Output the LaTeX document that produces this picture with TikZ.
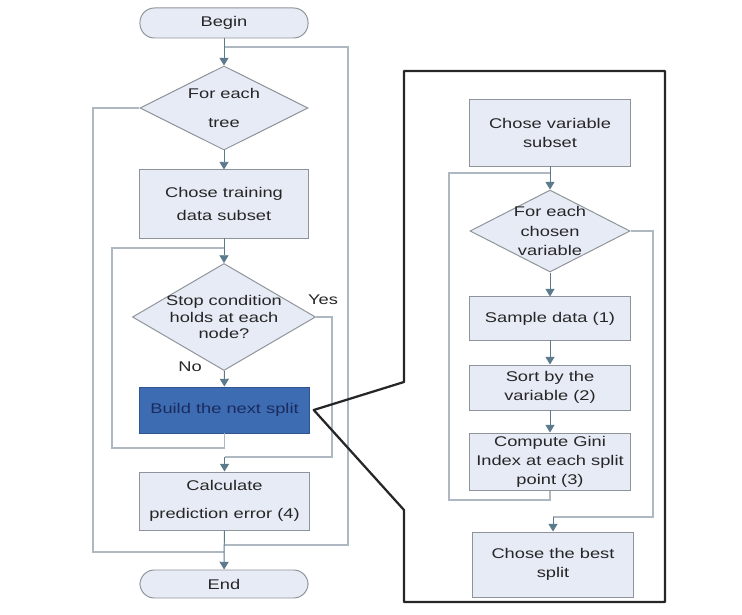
\documentclass[tikz,border=0pt]{standalone}
\usepackage{fontspec}
\setmainfont{Liberation Sans}[FakeStretch=1.3]
\usetikzlibrary{shapes.geometric,arrows.meta}
\definecolor{boxfill}{HTML}{E7EBF6}
\definecolor{boxline}{HTML}{8E949A}
\definecolor{flowcol}{HTML}{5B7A8C}
\definecolor{loopcol}{HTML}{AEB8C2}
\definecolor{splitfill}{HTML}{3D6CB3}
\definecolor{splittext}{HTML}{1A2B5E}
\definecolor{panelcol}{HTML}{262626}
\begin{document}
\begin{tikzpicture}[x=0.025cm, y=-0.025cm]
    \tikzstyle{txt}=[font=\fontsize{10}{13}\selectfont, text=black!85, align=center]
    \tikzstyle{box}=[txt, rectangle, draw=boxline, fill=boxfill, line width=0.7pt, inner sep=1pt, minimum width=4cm]
    \tikzstyle{term}=[box, rounded corners=0.36cm, minimum width=4.2cm]
    \tikzstyle{choice}=[txt, diamond, draw=boxline, fill=boxfill, line width=0.7pt, inner sep=-3pt, shape aspect=2]
    \tikzstyle{flow}=[draw=flowcol, line width=0.7pt, -{Triangle[width=6.5pt,length=5.5pt]}]
    \tikzstyle{loopline}=[draw=loopcol, line width=0.8pt]
    \useasboundingbox (0,0) rectangle (742,615);

    \node[term, minimum height=0.75cm] (begin) at (224,23) {Begin};
    \node[choice, minimum width=4.2cm, minimum height=2.1cm, font=\fontsize{10}{20}\selectfont] (tree) at (224,108) {For each\\tree};
    \node[box, minimum width=4.2cm, minimum height=1.7cm, font=\fontsize{10}{16}\selectfont] (train) at (224,204) {Chose training\\data subset};
    \node[choice, minimum width=4.575cm, minimum height=2.675cm, shape aspect=1.7, font=\fontsize{10}{12}\selectfont] (stop) at (224,317) {Stop condition\\holds at each\\node?};
    \node[box, minimum width=4.225cm, minimum height=1.15cm, fill=splitfill, draw=splitfill!80!black, text=splittext] (split) at (224.5,410) {Build the next split};
    \node[box, minimum width=4.225cm, minimum height=1.45cm, font=\fontsize{10}{20}\selectfont] (calc) at (224.5,501) {Calculate\\prediction error (4)};
    \node[term, minimum height=0.7cm] (end) at (224,584) {End};

    \node[txt] (no) at (190,367) {No};
    \node[txt] (yes) at (323,300) {Yes};

    \node[box, minimum height=1.65cm] (varsub) at (550,133) {Chose variable\\subset};
    \node[choice, minimum width=4cm, minimum height=2.05cm, font=\fontsize{10}{14}\selectfont] (chosen) at (550,231) {For each\\chosen\\variable};
    \node[box, minimum height=1.075cm] (sample) at (550,318.5) {Sample data (1)};
    \node[box, minimum height=1.125cm] (sort) at (550,387.5) {Sort by the\\variable (2)};
    \node[box, minimum height=1.425cm, font=\fontsize{10}{13.5}\selectfont] (gini) at (550,461.5) {Compute Gini\\Index at each split\\point (3)};
    \node[box, minimum height=1.625cm] (best) at (553,564.5) {Chose the best\\split};

    \coordinate (treein) at (224,47);
    \coordinate (outerR) at (348,545);
    \coordinate (exitL) at (93,552);
    \coordinate (stopin) at (224,248);
    \coordinate (innerL) at (112,448);
    \coordinate (yesR) at (332,457);
    \coordinate (yesJ) at (224.5,457);
    \coordinate (chosenin) at (550,173);
    \coordinate (vloopL) at (449,500);
    \coordinate (vexitR) at (653,517);
    \coordinate (vexitJ) at (553,517);

    \draw[loopline] (calc.south) |- (outerR) |- (treein)
                    (tree.west) -| (exitL) -- (exitL -| end.north)
                    (split.south) |- (innerL) |- (stopin)
                    (stop.east) -| (yesR) -- (yesJ)
                    (gini.south) |- (vloopL) |- (chosenin)
                    (chosen.east) -| (vexitR) -- (vexitJ);

    \draw[flow] (begin) -- (tree);
    \draw[flow] (tree) -- (train);
    \draw[flow] (train) -- (stop);
    \draw[flow] (stop) -- (split);
    \draw[flow] (yesJ) -- (calc);
    \draw[flow] (calc) -- (end);
    \draw[flow] (varsub) -- (chosen);
    \draw[flow] (chosen) -- (sample);
    \draw[flow] (sample) -- (sort);
    \draw[flow] (sort) -- (gini);
    \draw[flow] (vexitJ) -- (best);

    \draw[draw=panelcol, line width=1.6pt, line join=round] (404,382) -- (404,71) -- (665,71)
                                                           -- (665,602) -- (404,602) -- (404,510)
                                                           -- ([xshift=3pt]split.east) -- cycle;
\end{tikzpicture}
\end{document}
